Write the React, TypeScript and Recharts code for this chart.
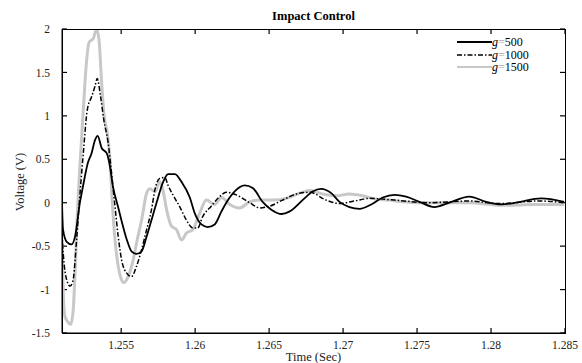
import React from 'react'
import { LineChart, Line, XAxis, YAxis, ReferenceLine } from 'recharts'

// time (s) and voltage (V), one pair of arrays per gain
const t500 = [1.251, 1.25107, 1.25132, 1.25165, 1.25188, 1.25221, 1.25242, 1.25275, 1.253, 1.25323, 1.25341, 1.25368, 1.25402, 1.25424, 1.25444, 1.25478, 1.25503, 1.25537, 1.2557, 1.25604, 1.25638, 1.25672, 1.25705, 1.25739, 1.25784, 1.25817, 1.25863, 1.25908, 1.25964, 1.25997, 1.26043, 1.26085, 1.26132, 1.26178, 1.26222, 1.26267, 1.26335, 1.26389, 1.26456, 1.26515, 1.26585, 1.26639, 1.26726, 1.26794, 1.26852, 1.2692, 1.26976, 1.27043, 1.27111, 1.2719, 1.27268, 1.27347, 1.27426, 1.27516, 1.27617, 1.27718, 1.27853, 1.27968, 1.28069, 1.2817, 1.28339, 1.28494]
const v500 = [0.0, -0.31, -0.45, -0.48, -0.39, 0.0, 0.19, 0.46, 0.57, 0.72, 0.77, 0.63, 0.57, 0.42, 0.19, -0.04, -0.21, -0.42, -0.56, -0.59, -0.56, -0.39, -0.2, 0.0, 0.24, 0.33, 0.33, 0.24, 0.06, -0.12, -0.25, -0.28, -0.25, -0.1, 0.03, 0.13, 0.2, 0.17, 0.01, -0.08, -0.13, -0.1, 0.03, 0.13, 0.16, 0.11, 0.01, -0.05, -0.07, -0.02, 0.06, 0.09, 0.07, 0.01, -0.05, 0.0, 0.07, 0.01, -0.02, 0.0, 0.05, 0.01]

const t1000 = [1.251, 1.25109, 1.25132, 1.25154, 1.25174, 1.25199, 1.25217, 1.25244, 1.25271, 1.253, 1.25323, 1.25338, 1.25361, 1.25383, 1.25412, 1.25435, 1.25458, 1.2548, 1.25503, 1.25537, 1.2557, 1.25604, 1.25638, 1.25672, 1.25705, 1.25728, 1.25761, 1.25795, 1.25817, 1.25863, 1.25897, 1.25941, 1.25984, 1.26017, 1.26051, 1.26109, 1.26165, 1.2621, 1.26278, 1.26369, 1.26436, 1.26503, 1.26591, 1.26683, 1.26774, 1.26886, 1.26976, 1.27077, 1.27178, 1.27347, 1.27583, 1.27853, 1.28055, 1.28325, 1.28494]
const v1000 = [-0.35, -0.6, -0.89, -0.96, -0.9, -0.42, 0.0, 0.57, 1.07, 1.22, 1.34, 1.43, 1.22, 0.95, 0.69, 0.34, -0.04, -0.39, -0.66, -0.81, -0.85, -0.73, -0.54, -0.31, -0.08, 0.15, 0.28, 0.29, 0.2, 0.05, -0.05, -0.2, -0.29, -0.29, -0.16, -0.04, 0.07, 0.12, 0.09, 0.0, -0.06, -0.04, 0.03, 0.1, 0.12, 0.03, -0.01, 0.02, 0.05, 0.03, 0.0, 0.02, -0.01, 0.02, 0.0]

const t1500 = [1.251, 1.25109, 1.2512, 1.25143, 1.25159, 1.25176, 1.25188, 1.25203, 1.25221, 1.25244, 1.25267, 1.25284, 1.25311, 1.25334, 1.25352, 1.25368, 1.25385, 1.25406, 1.25424, 1.25439, 1.25458, 1.2548, 1.25503, 1.25518, 1.25547, 1.25581, 1.25608, 1.25638, 1.25672, 1.25694, 1.25728, 1.25761, 1.25784, 1.25807, 1.2584, 1.25874, 1.25908, 1.25941, 1.25984, 1.26031, 1.26076, 1.26132, 1.26178, 1.26234, 1.26301, 1.26369, 1.26436, 1.26526, 1.26616, 1.26706, 1.26774, 1.26861, 1.26954, 1.27043, 1.27131, 1.27224, 1.27313, 1.27401, 1.27536, 1.27651, 1.27853, 1.28076, 1.28305, 1.28494]
const v1500 = [-0.42, -1.04, -1.31, -1.38, -1.4, -1.23, -0.81, -0.16, 0.42, 1.07, 1.65, 1.85, 1.89, 2.0, 1.84, 1.38, 1.0, 0.8, 0.5, 0.03, -0.42, -0.73, -0.89, -0.92, -0.85, -0.66, -0.43, -0.2, 0.11, 0.16, 0.13, 0.24, 0.13, -0.08, -0.27, -0.31, -0.43, -0.35, -0.31, -0.12, 0.03, -0.02, 0.06, -0.02, -0.06, 0.01, 0.03, 0.03, 0.05, 0.11, 0.14, 0.1, 0.08, 0.1, 0.08, 0.04, 0.03, 0.01, 0.0, 0.0, 0.0, -0.03, -0.02, -0.02]

const xTicks = [1.255, 1.26, 1.265, 1.27, 1.275, 1.28, 1.285]
const yTicks = [-1.5, -1, -0.5, 0, 0.5, 1, 1.5, 2]
const legendLabels = ['500', '1000', '1500']

const toRows = (t: number[], v: number[]) => t.map((x, i) => ({ t: x, v: v[i] }))

const FONT = '"Liberation Serif", "DejaVu Serif", serif'
const GRAY = '#c8c8c8'
const DASH = '5 2 1.5 2'
const X_DOMAIN: [number, number] = [1.251, 1.285]
const Y_DOMAIN: [number, number] = [-1.5, 2]
// inward tick length (~5px) expressed in axis units
const TX = 0.00034
const TY = 0.058
const AX = '#000'
const tickFont = { fontSize: 11.5, fontFamily: FONT, fill: '#222' }

// plot box, matches the chart margins below
const PLOT = { left: 62, top: 29, right: 565, bottom: 333 }

const styles = [
  { color: '#000', width: 1.8, dash: undefined },
  { color: '#000', width: 1.5, dash: DASH },
  { color: GRAY, width: 2, dash: undefined },
]

export default function App() {
  const [x0, x1] = X_DOMAIN
  const [y0, y1] = Y_DOMAIN
  return (
    <div style={{ position: 'absolute', left: 0, top: 0, width: 582, height: 363, background: '#fff', fontFamily: FONT }}>
      <LineChart width={582} height={363} margin={{ top: 29, right: 17, bottom: 10, left: 22 }}>
        <XAxis xAxisId="b" type="number" dataKey="t" domain={X_DOMAIN} ticks={xTicks} allowDataOverflow
          height={20} tickLine={false} tickMargin={2} tick={tickFont} axisLine={{ stroke: AX, strokeWidth: 1 }} interval={0} />
        <YAxis yAxisId="l" type="number" domain={Y_DOMAIN} ticks={yTicks} allowDataOverflow
          width={40} tickLine={false} tickMargin={6} tick={tickFont} axisLine={{ stroke: AX, strokeWidth: 1 }} interval={0} />
        {xTicks.map((t) => (
          <ReferenceLine key={'b' + t} xAxisId="b" yAxisId="l" stroke={AX} strokeWidth={1.2} ifOverflow="visible"
            segment={[{ x: t, y: y0 }, { x: t, y: y0 + TY }]} />
        ))}
        {xTicks.map((t) => (
          <ReferenceLine key={'t' + t} xAxisId="b" yAxisId="l" stroke={AX} strokeWidth={1.2} ifOverflow="visible"
            segment={[{ x: t, y: y1 }, { x: t, y: y1 - TY }]} />
        ))}
        {yTicks.map((v) => (
          <ReferenceLine key={'l' + v} xAxisId="b" yAxisId="l" stroke={AX} strokeWidth={1.2} ifOverflow="visible"
            segment={[{ x: x0, y: v }, { x: x0 + TX, y: v }]} />
        ))}
        {yTicks.map((v) => (
          <ReferenceLine key={'r' + v} xAxisId="b" yAxisId="l" stroke={AX} strokeWidth={1.2} ifOverflow="visible"
            segment={[{ x: x1, y: v }, { x: x1 - TX, y: v }]} />
        ))}
        <Line xAxisId="b" yAxisId="l" data={toRows(t1500, v1500)} dataKey="v" type="monotone" stroke={GRAY}
          strokeWidth={3} dot={false} isAnimationActive={false} />
        <Line xAxisId="b" yAxisId="l" data={toRows(t1000, v1000)} dataKey="v" type="monotone" stroke="#000"
          strokeWidth={1.5} strokeDasharray={DASH} dot={false} isAnimationActive={false} />
        <Line xAxisId="b" yAxisId="l" data={toRows(t500, v500)} dataKey="v" type="monotone" stroke="#000"
          strokeWidth={1.8} dot={false} isAnimationActive={false} />
      </LineChart>

      {/* box around the plot area */}
      <div style={{ position: 'absolute', left: PLOT.left, top: PLOT.top, width: PLOT.right - PLOT.left + 1,
        height: PLOT.bottom - PLOT.top + 1, boxSizing: 'border-box', border: '1px solid #000', pointerEvents: 'none' }} />

      <div style={{ position: 'absolute', left: 0, width: 582, top: 351, paddingLeft: 62, paddingRight: 17, boxSizing: 'border-box',
        textAlign: 'center', fontSize: 12.5, color: '#222', lineHeight: '12px' }}>Time (Sec)</div>
      <div style={{ position: 'absolute', left: 0, width: 582, top: 9, paddingLeft: 62, paddingRight: 17, boxSizing: 'border-box',
        textAlign: 'center', fontWeight: 'bold', fontSize: 12.5 }}>Impact Control</div>
      <div style={{ position: 'absolute', left: 20, top: 182, transform: 'translate(-50%, -50%) rotate(-90deg)',
        fontSize: 12.5, whiteSpace: 'nowrap', color: '#222' }}>Voltage (V)</div>

      <div style={{ position: 'absolute', left: 457, top: 36, fontSize: 12, lineHeight: '12.5px' }}>
        {legendLabels.map((lab, i) => (
          <div key={lab} style={{ display: 'flex', alignItems: 'center', height: 12.5 }}>
            <svg width={35} height={6}>
              <line x1={0} y1={3} x2={35} y2={3} stroke={styles[i].color} strokeWidth={styles[i].width}
                strokeDasharray={styles[i].dash} />
            </svg>
            <span style={{ fontStyle: 'italic' }}>g</span>
            <span style={{ color: '#a8a8a8' }}>=</span>
            <span>{lab}</span>
          </div>
        ))}
      </div>
    </div>
  )
}
